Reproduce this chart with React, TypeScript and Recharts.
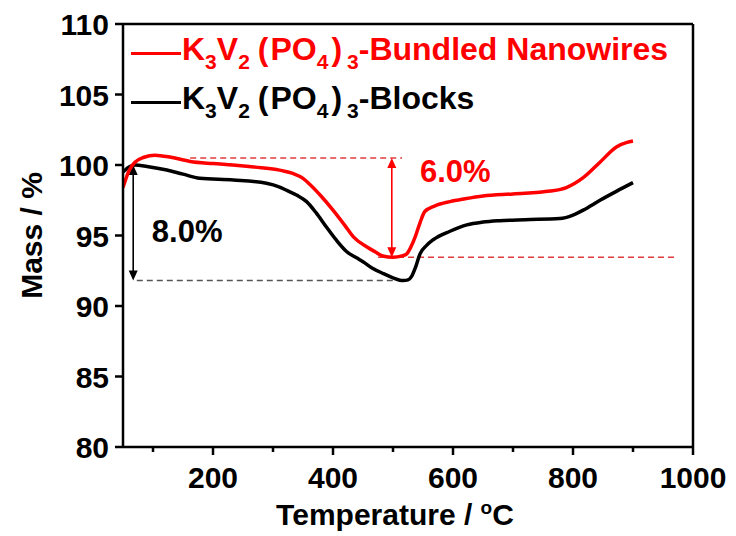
import {
  LineChart, Line, XAxis, YAxis, Legend, ReferenceLine, ReferenceDot,
} from 'recharts';

// temperature (°C) / mass (%)
const bundledTemp = [50, 60, 70, 85, 103, 130, 162, 200, 233, 260, 289, 315, 333, 350, 362, 380, 400, 420, 434, 456, 470, 483, 500, 515, 523, 530, 537, 545, 553, 570, 595, 620, 650, 700, 762, 789, 817, 845, 873, 890, 900];
const bundledMass = [98.4, 99.6, 100.2, 100.55, 100.7, 100.55, 100.25, 100.1, 100.0, 99.9, 99.77, 99.6, 99.4, 99.05, 98.6, 97.8, 96.8, 95.7, 94.9, 94.2, 93.85, 93.55, 93.45, 93.55, 93.7, 94.2, 94.9, 95.9, 96.7, 97.1, 97.4, 97.6, 97.8, 97.95, 98.15, 98.4, 99.1, 100.2, 101.3, 101.6, 101.7];

const blockTemp = [50, 60, 70, 90, 123, 150, 178, 234, 289, 310, 323, 340, 356, 372, 389, 405, 423, 440, 450, 465, 484, 500, 517, 525, 531, 538, 545, 556, 567, 595, 623, 650, 678, 720, 778, 800, 817, 845, 873, 900];
const blockMass = [99.5, 99.85, 100.0, 99.9, 99.65, 99.35, 99.06, 98.94, 98.7, 98.45, 98.2, 97.85, 97.4, 96.6, 95.6, 94.7, 93.85, 93.4, 93.14, 92.7, 92.3, 92.0, 91.8, 91.85, 92.1, 92.8, 93.7, 94.3, 94.7, 95.3, 95.75, 95.95, 96.05, 96.12, 96.2, 96.45, 96.8, 97.5, 98.15, 98.75];

const xTicks = [100, 200, 300, 400, 500, 600, 700, 800, 900, 1000];
const yTicks = [80, 85, 90, 95, 100, 105, 110];

const legendItems = [
  { color: '#ff0000', suffix: '-Bundled Nanowires' },
  { color: '#000000', suffix: '-Blocks' },
];

// mass-loss marks: upper/lower levels and where the arrows stand
const redTop = 100.5;
const redBottom = 93.45;
const redArrowT = 498;
const blackTop = 100.0;
const blackBottom = 91.8;
const blackArrowT = 67;

const bundled = bundledTemp.map((t, i) => ({ t, m: bundledMass[i] }));
const blocks = blockTemp.map((t, i) => ({ t, m: blockMass[i] }));

const FONT = '"Liberation Sans", Arial, sans-serif';

const XTick = ({ x, y, payload }: any) => {
  const major = payload.value % 200 === 0;
  return (
    <g>
      <line x1={x} x2={x} y1={y} y2={y + (major ? 8 : 5)} stroke="#000" strokeWidth={2.5} />
      {major && (
        <text x={x} y={y + 41} textAnchor="middle" fontSize={30} fontWeight="bold" fontFamily={FONT} fill="#000">
          {payload.value}
        </text>
      )}
    </g>
  );
};

const YTick = ({ x, y, payload }: any) => (
  <g>
    <line x1={x - 8} x2={x} y1={y} y2={y} stroke="#000" strokeWidth={2.5} />
    <text x={x - 14} y={y + 11} textAnchor="end" fontSize={30} fontWeight="bold" fontFamily={FONT} fill="#000">
      {payload.value}
    </text>
  </g>
);

const Arrow = (props: any) => {
  const { x1, y1, x2, y2, stroke } = props;
  const head = 10;
  const w = 4.5;
  const top = Math.min(y1, y2);
  const bot = Math.max(y1, y2);
  return (
    <g>
      <line x1={x1} x2={x2} y1={top + head - 1} y2={bot - head + 1} stroke={stroke} strokeWidth={1.6} />
      <polygon points={`${x1},${top} ${x1 - w},${top + head} ${x1 + w},${top + head}`} fill={stroke} />
      <polygon points={`${x1},${bot} ${x1 - w},${bot - head} ${x1 + w},${bot - head}`} fill={stroke} />
    </g>
  );
};

const pctText = (value: string, color: string) => (p: any) => (
  <text x={p.cx} y={p.cy} fontSize={31} fontWeight="bold" fontFamily={FONT} fill={color}>
    {value}
  </text>
);

const sub = (s: string) => (
  <span style={{ fontSize: 21, position: 'relative', top: 9 }}>{s}</span>
);

const LegendBox = () => (
  <div style={{ fontFamily: FONT, fontWeight: 'bold', fontSize: 32 }}>
    {legendItems.map((it) => (
      <div key={it.suffix} style={{ display: 'flex', alignItems: 'center', height: 49, color: it.color, whiteSpace: 'nowrap' }}>
        <span style={{ display: 'inline-block', width: 50, height: 3, background: it.color, marginTop: 8, marginRight: 1 }} />
        <span>
          K{sub('3')}V{sub('2')}<span style={{ marginLeft: 8, marginRight: 2 }}>(</span>PO{sub('4')}
          <span style={{ marginLeft: 3, marginRight: 5 }}>)</span>{sub('3')}{it.suffix}
        </span>
      </div>
    ))}
  </div>
);

export default function App() {
  return (
    <div style={{ position: 'absolute', left: 0, top: 0, background: '#fff', fontFamily: FONT }}>
      <LineChart width={736} height={536} margin={{ top: 24, right: 43, left: 0, bottom: 0 }}>
        <XAxis
          type="number"
          dataKey="t"
          domain={[50, 1000]}
          ticks={xTicks}
          interval={0}
          allowDataOverflow
          height={89}
          tickSize={0}
          tickMargin={0}
          tickLine={false}
          tick={<XTick />}
          axisLine={{ stroke: '#000', strokeWidth: 2.5 }}
          label={({ viewBox }: any) => (
            <text x={viewBox.x + viewBox.width / 2 - 13} y={viewBox.y + 78} textAnchor="middle" fontSize={30} fontWeight="bold" fontFamily={FONT} fill="#000">
              Temperature / <tspan dy={-11} fontSize={19}>o</tspan><tspan dy={11}>C</tspan>
            </text>
          )}
        />
        <YAxis
          type="number"
          domain={[80, 110]}
          ticks={yTicks}
          interval={0}
          allowDataOverflow
          width={123}
          tickSize={0}
          tickMargin={0}
          tickLine={false}
          tick={<YTick />}
          axisLine={{ stroke: '#000', strokeWidth: 2.5 }}
          label={({ viewBox }: any) => (
            <text x={31} y={viewBox.y + viewBox.height / 2} transform={`rotate(-90 31 ${viewBox.y + viewBox.height / 2})`} textAnchor="middle" dominantBaseline="central" fontSize={30} fontWeight="bold" fontFamily={FONT} fill="#000">
              Mass / %
            </text>
          )}
        />
        <ReferenceLine y={110} stroke="#000" strokeWidth={2.5} />
        <ReferenceLine x={1000} stroke="#000" strokeWidth={2.5} />

        <ReferenceLine segment={[{ x: 162, y: redTop }, { x: 515, y: redTop }]} stroke="#e03c3c" strokeWidth={1.5} strokeDasharray="6 4" />
        <ReferenceLine segment={[{ x: 475, y: redBottom }, { x: 972, y: redBottom }]} stroke="#e03c3c" strokeWidth={1.5} strokeDasharray="6 4" />
        <ReferenceLine segment={[{ x: 73, y: blackBottom }, { x: 500, y: blackBottom }]} stroke="#555" strokeWidth={1.5} strokeDasharray="6 4" />
        <ReferenceLine segment={[{ x: redArrowT, y: redTop }, { x: redArrowT, y: redBottom }]} stroke="#ff0000" shape={Arrow} />
        <ReferenceLine segment={[{ x: blackArrowT, y: blackTop }, { x: blackArrowT, y: blackBottom }]} stroke="#000" shape={Arrow} />

        <Line data={blocks} dataKey="m" name="Blocks" type="monotone" stroke="#000" strokeWidth={3.5} dot={false} isAnimationActive={false} />
        <Line data={bundled} dataKey="m" name="Bundled Nanowires" type="monotone" stroke="#ff0000" strokeWidth={3.5} dot={false} isAnimationActive={false} />

        <ReferenceDot x={545} y={98.8} r={0} shape={pctText('6.0%', '#ff0000')} />
        <ReferenceDot x={98} y={94.54} r={0} shape={pctText('8.0%', '#000')} />

        <Legend
          layout="vertical"
          verticalAlign="middle"
          align="center"
          content={<LegendBox />}
          wrapperStyle={{ left: 131, top: 25, width: 'auto' }}
        />
      </LineChart>
    </div>
  );
}
